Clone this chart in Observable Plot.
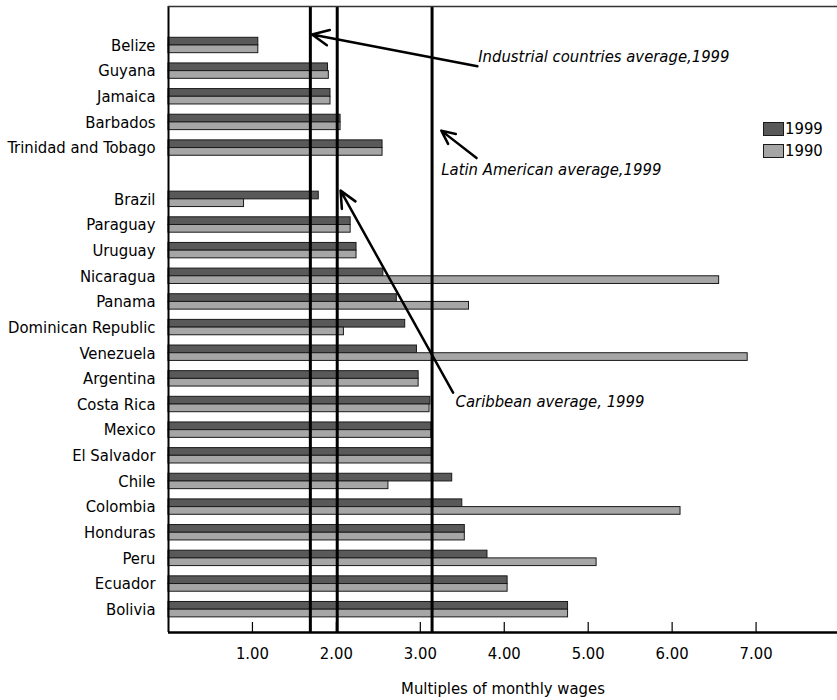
<!DOCTYPE html>
<html>
<head>
<meta charset="utf-8">
<script src="https://cdn.jsdelivr.net/npm/d3@7"></script>
<script src="https://cdn.jsdelivr.net/npm/@observablehq/plot@0.6"></script>
<style>
  body { margin: 0; background: #fff; }
  #wrap { position: relative; width: 837px; height: 700px; font-family: "DejaVu Sans Condensed", sans-serif; }
  #legend { position: absolute; left: 763px; top: 118px; font-size: 16.5px; line-height: 22px; color: #000; }
  #legend div { display: flex; align-items: center; }
  #legend span.sw { display: inline-block; width: 19px; height: 12px; border: 1px solid #1a1a1a; margin-right: 1px; }
</style>
</head>
<body>
<div id="wrap"><div id="chart"></div><div id="legend"></div></div>
<script>
const countries = ["Belize","Guyana","Jamaica","Barbados","Trinidad and Tobago","",
  "Brazil","Paraguay","Uruguay","Nicaragua","Panama","Dominican Republic","Venezuela",
  "Argentina","Costa Rica","Mexico","El Salvador","Chile","Colombia","Honduras","Peru","Ecuador","Bolivia"];
const values1999 = [1.07,1.90,1.93,2.05,2.55,null,1.79,2.17,2.24,2.56,2.72,2.82,2.96,2.98,3.12,3.13,3.14,3.38,3.50,3.53,3.80,4.04,4.76];
const values1990 = [1.07,1.91,1.93,2.05,2.55,null,0.90,2.17,2.24,6.56,3.58,2.09,6.90,2.98,3.11,3.13,3.14,2.62,6.10,3.53,5.10,4.04,4.76];
const series = ["1999", "1990"];
const seriesColors = ["#595959", "#a6a6a6"];
const xTicks = [1, 2, 3, 4, 5, 6, 7];
const averageLabels = ["Industrial countries average,1999", "Caribbean average, 1999", "Latin American average,1999"];
const averageValues = [1.69, 2.01, 3.14];
// annotation anchors in data units (x = multiples, y = row index)
const noteText = [[3.69, 0.45], [3.42, 13.9], [3.25, 4.84]];
const noteArrowFrom = [[3.68, 0.81], [3.39, 13.54], [3.67, 4.39]];
const noteArrowTo = [[1.71, -0.43], [2.05, 5.66], [3.25, 3.32]];

const font = "'DejaVu Sans Condensed', sans-serif";
const yDomain = [-1.52, 22.89];
const xDomain = [0, 7.97];

const bars = [];
countries.forEach((c, i) => {
  if (values1999[i] != null) bars.push({row: i, series: "1999", v: values1999[i], y1: i - 0.3, y2: i});
  if (values1990[i] != null) bars.push({row: i, series: "1990", v: values1990[i], y1: i, y2: i + 0.3});
});
const rowTicks = countries.map((c, i) => i).filter(i => countries[i] !== "");
const notes = averageLabels.map((label, i) => ({
  label, tx: noteText[i][0], ty: noteText[i][1],
  x1: noteArrowFrom[i][0], y1: noteArrowFrom[i][1], x2: noteArrowTo[i][0], y2: noteArrowTo[i][1]
}));

const plot = Plot.plot({
  width: 837,
  height: 700,
  marginLeft: 168,
  marginRight: 0,
  marginTop: 6,
  marginBottom: 68,
  style: {fontFamily: font, fontSize: "16.5px", background: "#fff", color: "#000"},
  x: {domain: xDomain, range: [168, 837]},
  y: {domain: yDomain, range: [6, 632]},
  color: {domain: series, range: seriesColors},
  marks: [
    Plot.rect(bars, {x1: 0, x2: "v", y1: "y1", y2: "y2", fill: "series", stroke: "#1a1a1a", strokeWidth: 1}),
    Plot.ruleX(averageValues, {stroke: "#000", strokeWidth: 3}),
    Plot.ruleX(xTicks, {stroke: "#000", strokeWidth: 1.2, insetTop: 616}),
    Plot.ruleX([xDomain[0]], {stroke: "#000", strokeWidth: 2}),
    Plot.ruleY([yDomain[0]], {stroke: "#333", strokeWidth: 1.5}),
    Plot.ruleY([yDomain[1]], {stroke: "#000", strokeWidth: 2.5}),
    Plot.axisY({ticks: rowTicks, tickFormat: i => countries[i], tickSize: 0, tickPadding: 13, fontSize: 16.5, label: null}),
    Plot.axisX({ticks: xTicks, tickFormat: d3.format(".2f"), tickSize: 0, tickPadding: 15, fontSize: 16.5,
      label: "Multiples of monthly wages", labelAnchor: "center", labelArrow: "none", labelOffset: 61}),
    Plot.arrow(notes, {x1: "x1", y1: "y1", x2: "x2", y2: "y2", stroke: "#000", strokeWidth: 2.5, headLength: 11, headAngle: 50}),
    Plot.text(notes, {x: "tx", y: "ty", text: "label", textAnchor: "start", fontStyle: "italic", fontSize: 16.5, fill: "#000"})
  ]
});
document.getElementById("chart").appendChild(plot);

const legend = document.getElementById("legend");
series.forEach((s, i) => {
  const row = document.createElement("div");
  const sw = document.createElement("span");
  sw.className = "sw";
  sw.style.background = seriesColors[i];
  row.appendChild(sw);
  row.appendChild(document.createTextNode(s));
  legend.appendChild(row);
});
</script>
</body>
</html>
